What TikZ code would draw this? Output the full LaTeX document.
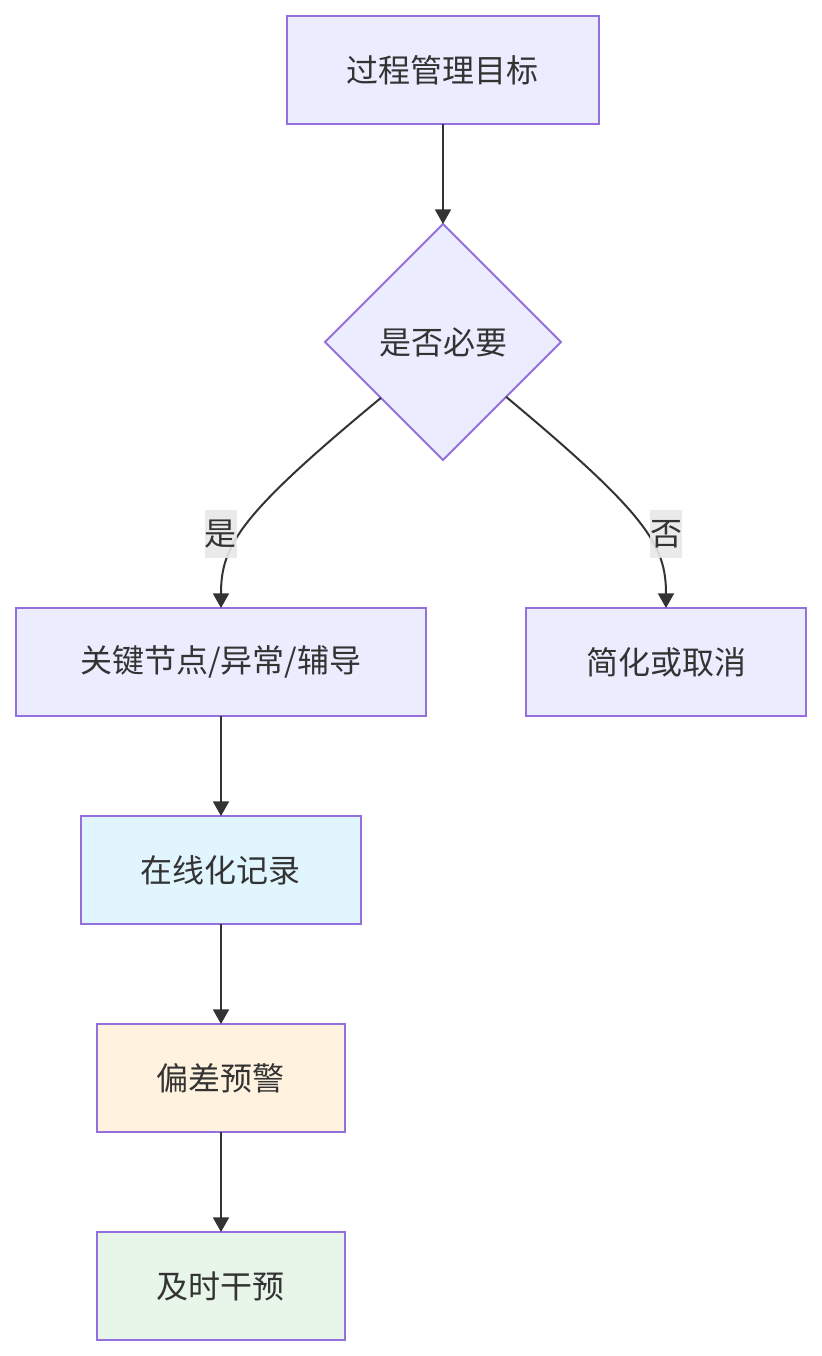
\documentclass[tikz,border=0pt]{standalone}
\usepackage{fontspec}
\usepackage{xcolor}
\usetikzlibrary{arrows.meta,positioning,shapes.geometric,calc}
\newfontfamily\cjk{Noto Sans CJK SC}
\definecolor{flowfill}{HTML}{ECECFF}
\definecolor{flowline}{HTML}{9370DB}
\definecolor{flowtext}{HTML}{333333}
\definecolor{flowblue}{HTML}{E1F5FE}
\definecolor{flowamber}{HTML}{FFF3E0}
\definecolor{flowgreen}{HTML}{E8F5E9}
\definecolor{flowlbl}{HTML}{E8E8E8}
\tikzset{
  fblk/.style={rectangle, draw=flowline, line width=1.5pt, fill=flowfill, text=flowtext, outer sep=0pt,
               align=center, font=\cjk\fontsize{24}{28}\selectfont, minimum height=81pt},
  fdec/.style={diamond, aspect=1, draw=flowline, line width=1.5pt, fill=flowfill, text=flowtext, outer sep=0pt,
               font=\cjk\fontsize{24}{28}\selectfont, inner sep=0pt, minimum width=177pt, minimum height=177pt},
  flbl/.style={fill=flowlbl, fill opacity=0.9, text opacity=1, text=flowtext, inner sep=0pt,
               font=\cjk\fontsize{24}{28}\selectfont, minimum width=24pt, minimum height=36pt},
  farr/.style={-{Triangle[length=11pt,width=12pt]}, line width=1.5pt, flowtext},
}
\begin{document}
\begin{tikzpicture}[node distance=75pt]
        \useasboundingbox (-332.25pt,52.5pt) rectangle (283.5pt,-964.5pt);
        \node[fblk, minimum width=234pt](goal){过程管理目标};
        \node[fdec, below=of goal](check){是否必要};
        \node[fblk, below=111pt of check, xshift=-166.5pt, minimum width=307.5pt](key){关键节点/异常/辅导};
        \node[fblk, below=111pt of check, xshift=167.25pt, minimum width=210pt](simp){简化或取消};
        \node[fblk, fill=flowblue, below=of key, minimum width=210pt](online){在线化记录};
        \node[fblk, fill=flowamber, below=of online, minimum width=186pt](warn){偏差预警};
        \node[fblk, fill=flowgreen, below=of warn, minimum width=186pt](act){及时干预};
        \draw[farr](goal)--(check);
        \draw[farr](check.222) .. controls ($(key.north)+(14pt,70pt)$) and ($(key.north)+(0,47pt)$) .. (key.north);
        \draw[farr](check.-41) .. controls ($(simp.north)+(-14pt,70pt)$) and ($(simp.north)+(0,47pt)$) .. (simp.north);
        \node[flbl] (yes) at ($(key.north)+(0,55.5pt)$) {是};
        \node[flbl] (no) at ($(simp.north)+(0,55.5pt)$) {否};
        \draw[farr](key)--(online);\draw[farr](online)--(warn);\draw[farr](warn)--(act);
    \end{tikzpicture}
\end{document}
